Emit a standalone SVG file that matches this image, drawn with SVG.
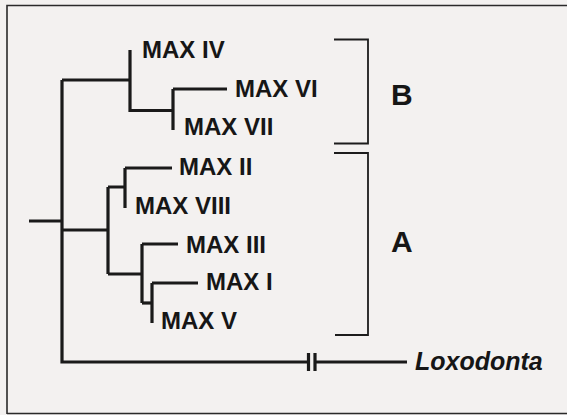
<svg xmlns="http://www.w3.org/2000/svg" width="567" height="415" viewBox="0 0 567 415">
<style>
.bg{fill:#f3f1f0}
.frame{stroke:#2a2a2a;stroke-width:1.6;fill:none}
.br{stroke:#1a1a1a;stroke-width:3.2;fill:none;stroke-linecap:butt}
.bk{stroke:#1c1c1c;stroke-width:1.8;fill:none}
.lab{font-family:"Liberation Sans",Arial,sans-serif;font-weight:bold;font-size:24px;fill:#161616}
.grp{font-family:"Liberation Sans",Arial,sans-serif;font-weight:bold;font-size:30px;fill:#161616}
.it{font-family:"Liberation Sans",Arial,sans-serif;font-weight:bold;font-style:italic;font-size:25px;fill:#161616}
</style>
<rect class="bg" x="0" y="0" width="567" height="415"/>
<path class="frame" d="M7,414 V5.5 H567 M7,413.5 H567"/>
<g id="connectors">
<path class="br" d="M29,221 H62"/>
<path class="br" d="M62,80 V362 H308"/>
<path class="br" d="M315,362 H407"/>
<path class="br" d="M308.5,353 V371 M315,353 V371" stroke-width="2.4"/>
<path class="br" d="M62,80 H130"/>
<path class="br" d="M130,50 V110.5 H173"/>
<path class="br" d="M173,89 V130 M173,89 H227"/>
<path class="br" d="M62,230 H108"/>
<path class="br" d="M108,187 V274 M108,187 H125"/>
<path class="br" d="M125,168 V208 M125,168 H172"/>
<path class="br" d="M108,274 H142"/>
<path class="br" d="M142,244 V303 M142,244 H178"/>
<path class="br" d="M142,303 H152"/>
<path class="br" d="M152,283 V323 M152,283 H198"/>
<path class="bk" d="M334,39.5 H368 V143.5 H334"/>
<path class="bk" d="M334,153 H368 V335 H335"/>
</g>
<g id="n-max4"><text class="lab" x="142" y="58">MAX IV</text></g>
<g id="n-max6"><text class="lab" x="235" y="97">MAX VI</text></g>
<g id="n-max7"><text class="lab" x="184" y="135">MAX VII</text></g>
<g id="n-max2"><text class="lab" x="179" y="175">MAX II</text></g>
<g id="n-max8"><text class="lab" x="135" y="214">MAX VIII</text></g>
<g id="n-max3"><text class="lab" x="186" y="252.5">MAX III</text></g>
<g id="n-max1"><text class="lab" x="206" y="289.5">MAX I</text></g>
<g id="n-max5"><text class="lab" x="161" y="329">MAX V</text></g>
<g id="n-lox"><text class="it" x="415" y="370">Loxodonta</text></g>
<g id="g-B"><text class="grp" x="391" y="105">B</text></g>
<g id="g-A"><text class="grp" x="391" y="252">A</text></g>
</svg>
